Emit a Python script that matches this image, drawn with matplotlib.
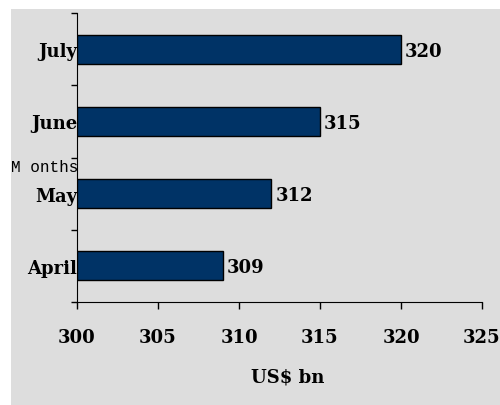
import matplotlib
matplotlib.use("Agg")
import matplotlib.pyplot as plt
from matplotlib.patches import Rectangle
import numpy as np

months = ["April", "May", "June", "July"]
values = [309, 312, 315, 320]
x_ticks = [300, 305, 310, 315, 320, 325]

fig = plt.figure(figsize=(5.0, 4.06), dpi=100)
fig.patch.set_facecolor("white")
fig.patches.append(Rectangle((11/500, 0), 1 - 11/500, 1 - 10/406,
                             transform=fig.transFigure, facecolor="#DDDDDD",
                             edgecolor="none", zorder=-10))

ax = fig.add_axes([77/500, 1 - 303/406, (482-77)/500, (303-14)/406])
ax.set_facecolor("none")

pos = np.arange(len(months))
ax.barh(pos, [v - 300 for v in values], left=300, height=0.4,
        color="#003366", edgecolor="black", linewidth=1.0, zorder=3)

serif = "DejaVu Serif"
for p, v in zip(pos, values):
    ax.text(v + 0.25, p - 0.02, str(v), va="center", ha="left",
            fontsize=13, fontweight="bold", family=serif)

ax.set_xlim(300, 325)
ax.set_ylim(-0.5, 3.5)
ax.set_xticks(x_ticks)
ax.set_xticklabels([str(t) for t in x_ticks], fontsize=13,
                   fontweight="bold", family=serif)
ax.tick_params(axis="x", direction="out", length=5, width=1, pad=14)

ax.set_yticks(np.arange(-0.5, len(months), 1.0))
ax.set_yticklabels([])
ax.tick_params(axis="y", which="major", direction="out", length=4, width=1)
ax.set_yticks(pos, minor=True)
ax.set_yticklabels(months, minor=True, fontsize=13, fontweight="bold",
                   family=serif)
ax.tick_params(axis="y", which="minor", length=0, pad=0)

for s in ["top", "right"]:
    ax.spines[s].set_visible(False)
ax.spines["left"].set_color("black")
ax.spines["bottom"].set_color("black")

ax.set_xlabel("US$ bn", fontsize=13, fontweight="bold", family=serif)
ax.xaxis.set_label_coords(0.52, -0.227)

fig.text(45/500, 1 - 168/406, "M onths", ha="center", va="center",
         fontsize=11.5, family="Liberation Mono")

fig.savefig("out.png", dpi=100)
